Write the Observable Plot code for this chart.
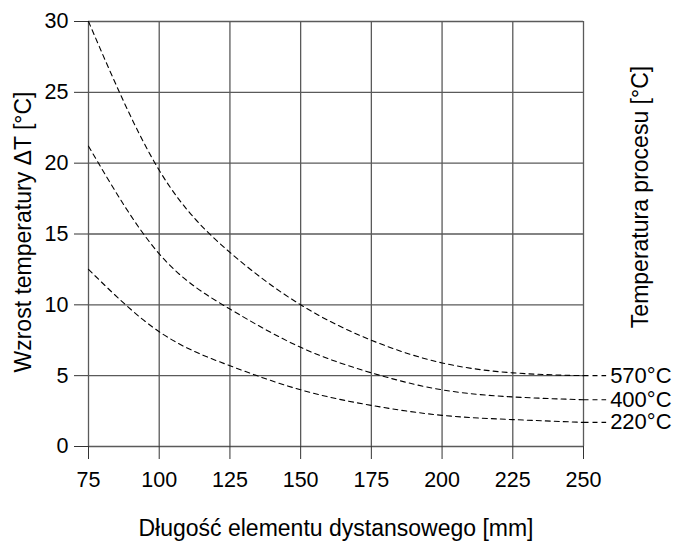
<!DOCTYPE html>
<html><head><meta charset="utf-8">
<script src="https://cdn.jsdelivr.net/npm/d3@7"></script>
<script src="https://cdn.jsdelivr.net/npm/@observablehq/plot@0.6"></script>
<style>body{margin:0;background:#fff}</style>
</head><body><div id="chart"></div>
<script>
const lengths = [75, 100, 125, 150, 175, 200, 225, 250];
const series570 = [30.0, 19.5, 13.7, 10.0, 7.5, 5.9, 5.2, 5.0];
const series400 = [21.2, 13.6, 9.7, 7.0, 5.2, 4.0, 3.5, 3.3];
const series220 = [12.5, 8.1, 5.7, 4.0, 2.9, 2.2, 1.9, 1.7];
const seriesNames = ["570°C", "400°C", "220°C"];
const xTicks = [75, 100, 125, 150, 175, 200, 225, 250];
const yTicks = [0, 5, 10, 15, 20, 25, 30];
const xTitle = "Długość elementu dystansowego [mm]";
const yTitle = "Wzrost temperatury ΔT [°C]";
const rightTitle = "Temperatura procesu [°C]";

const allSeries = [series570, series400, series220];
const data = allSeries.flatMap((s, i) => s.map((v, j) => ({x: lengths[j], y: v, name: seriesNames[i]})));
const ends = allSeries.map((s, i) => ({x: lengths[lengths.length - 1], y: s[s.length - 1], name: seriesNames[i]}));
const leaderLen = 8;

const font = "Liberation Sans, Arial, sans-serif";
const chart = Plot.plot({
  width: 675, height: 545,
  marginLeft: 88, marginRight: 92, marginTop: 21, marginBottom: 99,
  style: {fontFamily: font, fontSize: "21px", color: "#000", background: "#fff"},
  x: {domain: [75, 250], ticks: xTicks, label: null},
  y: {domain: [0, 30], ticks: yTicks, label: null},
  marks: [
    Plot.ruleX(xTicks, {stroke: "#5a5a5a", strokeWidth: 1.3}),
    Plot.ruleY(yTicks, {stroke: "#5a5a5a", strokeWidth: 1.3}),
    Plot.line(data, {x: "x", y: "y", z: "name", curve: "natural", stroke: "#000", strokeWidth: 1.1, strokeDasharray: "5,4"}),
    Plot.link(ends, {x1: "x", y1: "y", x2: d => d.x + leaderLen, y2: "y", stroke: "#000", strokeWidth: 1.1, strokeDasharray: "5,4"}),
    Plot.text(ends, {x: d => d.x + leaderLen, y: "y", text: "name", textAnchor: "start", dx: 4, fontSize: 22, fill: "#000"}),
    Plot.axisX({ticks: xTicks, tickSize: 13, tickPadding: 12, fontSize: 21.5, stroke: "#333"}),
    Plot.axisY({ticks: yTicks, tickSize: 14, tickPadding: 6, fontSize: 21.5, stroke: "#333"}),
    Plot.text([xTitle], {frameAnchor: "bottom", dy: 89, fontSize: 23, fill: "#000"}),
    Plot.text([yTitle], {frameAnchor: "left", textAnchor: "middle", dx: -65, dy: -2, rotate: -90, fontSize: 23, fill: "#000"}),
    Plot.text([rightTitle], {frameAnchor: "right", textAnchor: "middle", dx: 57, dy: -37, rotate: -90, fontSize: 23, fill: "#000"})
  ]
});
document.getElementById("chart").appendChild(chart);
</script>
</body></html>
